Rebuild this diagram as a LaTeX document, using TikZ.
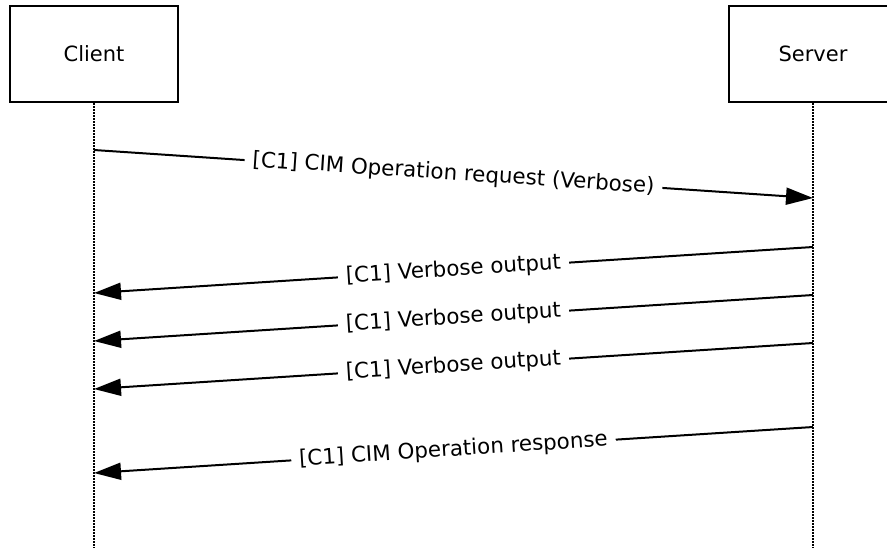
\documentclass[tikz,border=0pt]{standalone}
\usepackage{fontspec}
\setmainfont{DejaVu Sans}
\usetikzlibrary{arrows.meta}
\begin{document}
\begin{tikzpicture}[x=0.5pt,y=-0.5pt,
  actor/.style={draw, line width=1pt, minimum width=84pt, minimum height=48pt, inner sep=0pt, font=\fontsize{10.5}{12}\selectfont},
  life/.style={line width=0.85pt, dash pattern=on 0.8pt off 0.7pt},
  msg/.style={line width=1pt, -{Triangle[length=13.5pt,width=8.5pt]}},
  lbl/.style={midway, sloped, fill=white, inner xsep=4pt, inner ysep=1pt, font=\fontsize{10.7}{12}\selectfont}]
\clip (0,0) rectangle (887,547);
\node[actor] (client) at (94,54) {Client};
\node[actor] (server) at (813,54) {Server};
\coordinate (cb) at (94,550);
\coordinate (sb) at (813,550);
\draw[life] (client.south) -- (cb);
\draw[life] (server.south) -- (sb);
\coordinate (a1) at (94,150);  \coordinate (b1) at (813,198);
\coordinate (a2) at (813,247); \coordinate (b2) at (94,293);
\coordinate (a3) at (813,295); \coordinate (b3) at (94,341);
\coordinate (a4) at (813,343); \coordinate (b4) at (94,389);
\coordinate (a5) at (813,427); \coordinate (b5) at (94,473);
\draw[msg] (a1) -- node[lbl] {[C1] CIM Operation request (Verbose)} (b1);
\draw[msg] (a2) -- node[lbl] {[C1] Verbose output} (b2);
\draw[msg] (a3) -- node[lbl] {[C1] Verbose output} (b3);
\draw[msg] (a4) -- node[lbl] {[C1] Verbose output} (b4);
\draw[msg] (a5) -- node[lbl] {[C1] CIM Operation response} (b5);
\end{tikzpicture}
\end{document}
